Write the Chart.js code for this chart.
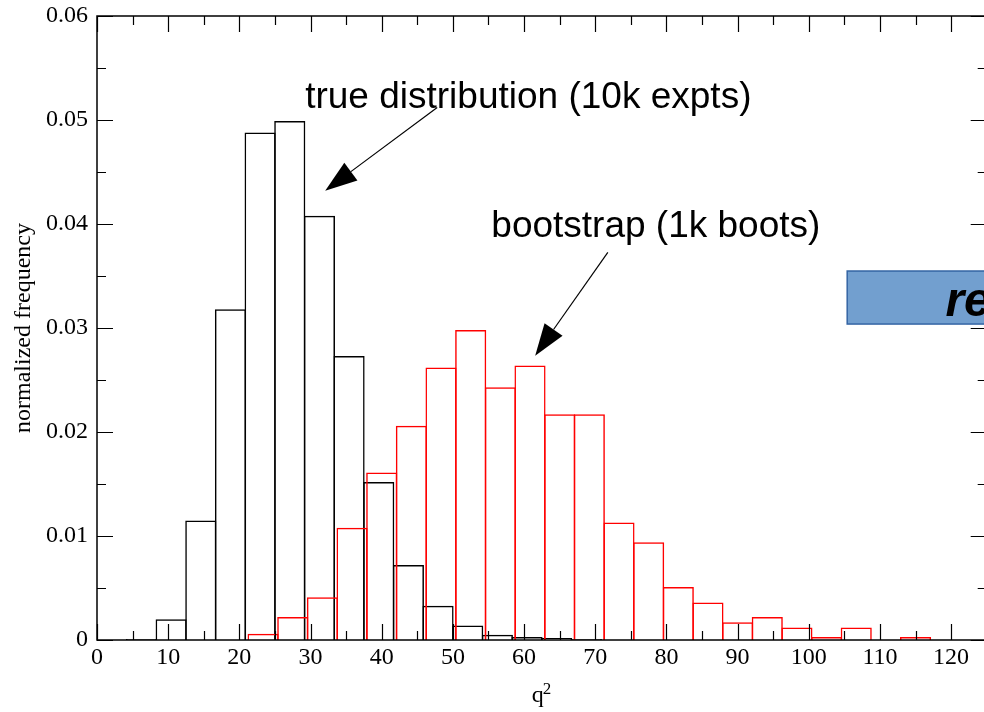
<!DOCTYPE html>
<html>
<head>
<meta charset="utf-8">
<script src="https://cdn.jsdelivr.net/npm/chart.js@4"></script>
<style>
  html, body { margin: 0; padding: 0; background: #fff; overflow: hidden; }
  #wrap { width: 984px; height: 712px; overflow: hidden; }
</style>
</head>
<body>
<div id="wrap"><canvas id="histChart" width="992" height="712"></canvas></div>
<script>
// histogram bins (both sets use the same bin width, bootstrap bins are shifted a little)
const binWidth = 125 / 30;
const trueStart = 0;
const bootStart = 0.42;

// true distribution (10k expts)
const trueFreq = [0, 0.0001, 0.002, 0.0115, 0.0318, 0.0488, 0.0499, 0.0408, 0.0273, 0.0152,
    0.0072, 0.0033, 0.0014, 0.0005, 0.0003, 0.0002, 0.0001];

// bootstrap (1k boots)
const bootFreq = [0, 0, 0, 0, 0, 0.0006, 0.0022, 0.0041, 0.0108, 0.0161,
    0.0206, 0.0262, 0.0298, 0.0243, 0.0264, 0.0217, 0.0217, 0.0113, 0.0094, 0.0051,
    0.0036, 0.0017, 0.0022, 0.0012, 0.0003, 0.0012, 0, 0.0003, 0, 0];

const xTicks = [0, 10, 20, 30, 40, 50, 60, 70, 80, 90, 100, 110, 120];
const yTicks = [0, 0.01, 0.02, 0.03, 0.04, 0.05, 0.06];

function toPoints(freq, start) {
    return freq.map((y, i) => ({x: start + (i + 0.5) * binWidth, y: y}));
}

const serif = 'Liberation Serif';
const sans = 'Liberation Sans';

// frame with inward ticks on all four sides
const frameTicks = {
    id: 'frameTicks',
    afterDatasetsDraw(chart) {
        const {ctx, chartArea: a, scales: {x, y}} = chart;
        ctx.save();
        ctx.strokeStyle = '#000';
        ctx.lineWidth = 1.5;
        ctx.strokeRect(a.left, a.top, a.right - a.left, a.bottom - a.top);
        ctx.lineWidth = 1.2;
        ctx.beginPath();
        for (let v = 0; v <= 125; v += 5) {
            const px = Math.round(x.getPixelForValue(v)) + 0.5;
            const len = v % 10 === 0 ? 16 : 9;
            ctx.moveTo(px, a.bottom); ctx.lineTo(px, a.bottom - len);
            ctx.moveTo(px, a.top); ctx.lineTo(px, a.top + len);
        }
        for (let i = 0; i <= 12; i++) {
            const py = Math.round(y.getPixelForValue(i * 0.005)) + 0.5;
            const len = i % 2 === 0 ? 16 : 9;
            ctx.moveTo(a.left, py); ctx.lineTo(a.left + len, py);
            ctx.moveTo(a.right, py); ctx.lineTo(a.right - len, py);
        }
        ctx.stroke();
        ctx.restore();
    }
};

// arrows, labels, axis title and the pasted box
const notes = {
    id: 'notes',
    afterDraw(chart, args, opts) {
        const {ctx, scales: {x, y}} = chart;
        ctx.save();
        ctx.fillStyle = '#000';
        ctx.strokeStyle = '#000';

        ctx.font = '37px ' + sans;
        ctx.textBaseline = 'alphabetic';
        opts.labels.forEach(l => {
            ctx.fillText(l.text, x.getPixelForValue(l.x), y.getPixelForValue(l.y));
        });

        opts.arrows.forEach(ar => {
            const x0 = x.getPixelForValue(ar.from[0]), y0 = y.getPixelForValue(ar.from[1]);
            const x1 = x.getPixelForValue(ar.to[0]), y1 = y.getPixelForValue(ar.to[1]);
            const ang = Math.atan2(y1 - y0, x1 - x0);
            const hl = 32, hw = 11;
            const bx = x1 - hl * Math.cos(ang), by = y1 - hl * Math.sin(ang);
            ctx.lineWidth = 1.2;
            ctx.beginPath();
            ctx.moveTo(x0, y0);
            ctx.lineTo(bx, by);
            ctx.stroke();
            ctx.beginPath();
            ctx.moveTo(x1, y1);
            ctx.lineTo(bx + hw * Math.sin(ang), by - hw * Math.cos(ang));
            ctx.lineTo(bx - hw * Math.sin(ang), by + hw * Math.cos(ang));
            ctx.closePath();
            ctx.fill();
        });

        // x axis title q^2
        const cx = x.getPixelForValue(62.5);
        ctx.font = '24px ' + serif;
        ctx.textAlign = 'left';
        ctx.fillText('q', cx - 10, 702);
        ctx.font = '17px ' + serif;
        ctx.fillText('2', cx + 1, 694);

        // blue box (cut off at the right edge)
        const b = opts.box;
        const bl = x.getPixelForValue(b.x0), br = x.getPixelForValue(b.x1);
        const bt = y.getPixelForValue(b.y1), bb = y.getPixelForValue(b.y0);
        ctx.fillStyle = '#729fcf';
        ctx.fillRect(bl, bt, br - bl, bb - bt);
        ctx.strokeStyle = '#3465a4';
        ctx.lineWidth = 1.5;
        ctx.strokeRect(bl, bt, br - bl, bb - bt);
        ctx.fillStyle = '#000';
        ctx.font = 'italic bold 48px ' + sans;
        ctx.fillText(b.text, x.getPixelForValue(b.textX), y.getPixelForValue(b.textY));
        ctx.restore();
    }
};

new Chart(document.getElementById('histChart'), {
    type: 'bar',
    data: {
        datasets: [{
            label: 'true distribution (10k expts)',
            data: toPoints(trueFreq, trueStart),
            xAxisID: 'x',
            backgroundColor: 'rgba(0,0,0,0)',
            borderColor: '#000',
            borderWidth: 1.5,
            order: 2
        }, {
            label: 'bootstrap (1k boots)',
            data: toPoints(bootFreq, bootStart),
            xAxisID: 'x2',
            backgroundColor: 'rgba(0,0,0,0)',
            borderColor: '#ff0000',
            borderWidth: 1.5,
            order: 1
        }]
    },
    options: {
        responsive: false,
        animation: false,
        // a bit over 1 so neighbouring bar outlines land on the same pixels
        barPercentage: 1.05,
        categoryPercentage: 1,
        grouped: false,
        layout: {
            padding: {top: 16, right: 5.3, left: 0, bottom: 0}
        },
        scales: {
            x: {
                type: 'linear',
                offset: false,
                min: 0,
                max: 125,
                afterFit: s => { s.height = 72; s.paddingLeft = 0; s.paddingRight = 0; },
                afterBuildTicks: s => { s.ticks = xTicks.map(v => ({value: v})); },
                grid: {display: false, drawTicks: false, offset: false},
                border: {display: false},
                ticks: {
                    color: '#000',
                    padding: 3,
                    maxRotation: 0,
                    autoSkip: false,
                    font: {family: serif, size: 24}
                }
            },
            x2: {
                type: 'linear',
                offset: false,
                display: false,
                min: 0,
                max: 125
            },
            y: {
                min: 0,
                max: 0.06,
                afterFit: s => { s.width = 97; s.paddingTop = 0; s.paddingBottom = 0; },
                afterBuildTicks: s => { s.ticks = yTicks.map(v => ({value: v})); },
                grid: {display: false, drawTicks: false},
                border: {display: false},
                title: {
                    display: true,
                    text: 'normalized frequency',
                    color: '#000',
                    padding: {top: 9},
                    font: {family: serif, size: 24}
                },
                ticks: {
                    color: '#000',
                    padding: 9,
                    font: {family: serif, size: 24},
                    callback: v => v === 0 ? '0' : v.toFixed(2)
                }
            }
        },
        plugins: {
            legend: {display: false},
            tooltip: {enabled: false},
            notes: {
                labels: [
                    {text: 'true distribution (10k expts)', x: 29.25, y: 0.0512},
                    {text: 'bootstrap (1k boots)', x: 55.4, y: 0.03875}
                ],
                arrows: [
                    {from: [47.8, 0.0512], to: [32.06, 0.0432]},
                    {from: [71.77, 0.03728], to: [61.56, 0.02734]}
                ],
                box: {x0: 105.4, x1: 135, y0: 0.03038, y1: 0.03548, text: 're', textX: 119.2, textY: 0.0312}
            }
        }
    },
    plugins: [frameTicks, notes]
});
</script>
</body>
</html>
